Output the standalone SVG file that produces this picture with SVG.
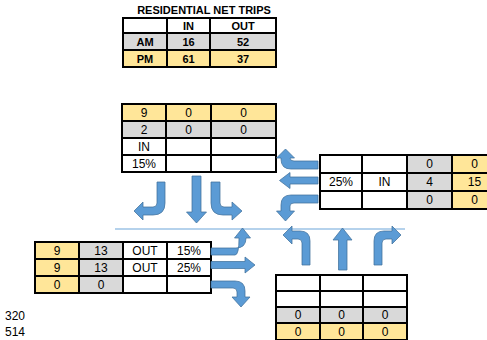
<svg xmlns="http://www.w3.org/2000/svg" width="487" height="340" viewBox="0 0 487 340">
  <style>
    text { font-family: "Liberation Sans", Arial, sans-serif; font-size: 12px; fill: #000; text-anchor: middle; }
    .b { font-weight: bold; font-size: 11px; }
    .title { font-weight: bold; font-size: 11px; }
    .plain { text-anchor: start; }
    .w { fill: #ffffff; }
    .g { fill: #d9d9d9; }
    .y { fill: #ffe699; }
    .grid { fill: none; stroke: #000; stroke-width: 2; }
    .arrow { fill: #5b9bd5; stroke: #41719c; stroke-width: 0.75; stroke-linejoin: round; }
    .divider { stroke: #9dc3e6; stroke-width: 1.5; }
  </style>

  <rect width="487" height="340" fill="#ffffff"/>

  <!-- summary table -->
  <g id="net-trips">
    <text class="title" x="204" y="14">RESIDENTIAL NET TRIPS</text>
    <rect class="w" x="123" y="18" width="153" height="15"/>
    <rect class="g" x="123" y="33" width="153" height="17"/>
    <rect class="y" x="123" y="50" width="153" height="17"/>
    <path class="grid" d="M123 18H276V67H123Z M123 33H276 M123 50H276 M167 18V67 M210 18V67"/>
    <text class="b" x="188.5" y="29.5">IN</text>
    <text class="b" x="243" y="29.5">OUT</text>
    <text class="b" x="145" y="45.5">AM</text>
    <text class="b" x="188.5" y="45.5">16</text>
    <text class="b" x="243" y="45.5">52</text>
    <text class="b" x="145" y="62.5">PM</text>
    <text class="b" x="188.5" y="62.5">61</text>
    <text class="b" x="243" y="62.5">37</text>
  </g>

  <!-- centre line -->
  <line class="divider" x1="115" y1="229" x2="405" y2="229"/>

  <!-- north approach -->
  <g id="north">
    <rect class="y" x="122" y="104" width="154" height="17"/>
    <rect class="g" x="122" y="121" width="154" height="17"/>
    <rect class="w" x="122" y="138" width="154" height="34"/>
    <path class="grid" d="M122 104H276V172H122Z M122 121H276 M122 138H276 M122 155H276 M166 104V172 M211 104V172"/>
    <text x="144" y="116.8">9</text>
    <text x="188.5" y="116.8">0</text>
    <text x="243.5" y="116.8">0</text>
    <text x="144" y="133.8">2</text>
    <text x="188.5" y="133.8">0</text>
    <text x="243.5" y="133.8">0</text>
    <text x="144" y="150.8">IN</text>
    <text x="144" y="167.8">15%</text>
  </g>

  <!-- east approach -->
  <g id="east">
    <rect class="w" x="320" y="155" width="87" height="54"/>
    <rect class="g" x="407" y="155" width="45" height="54"/>
    <rect class="y" x="452" y="155" width="45" height="54"/>
    <path class="grid" d="M320 155H497V209H320Z M320 173H497 M320 191H497 M362 155V209 M407 155V209 M452 155V209"/>
    <text x="429.5" y="168.3">0</text>
    <text x="474.5" y="168.3">0</text>
    <text x="341" y="186.3">25%</text>
    <text x="384.5" y="186.3">IN</text>
    <text x="429.5" y="186.3">4</text>
    <text x="474.5" y="186.3">15</text>
    <text x="429.5" y="204.3">0</text>
    <text x="474.5" y="204.3">0</text>
  </g>

  <!-- west approach -->
  <g id="west">
    <rect class="y" x="35" y="242" width="44" height="51"/>
    <rect class="g" x="79" y="242" width="44" height="51"/>
    <rect class="w" x="123" y="242" width="88" height="51"/>
    <path class="grid" d="M35 242H211V293H35Z M35 259H211 M35 276H211 M79 242V293 M123 242V293 M167 242V293"/>
    <text x="57" y="254.8">9</text>
    <text x="101" y="254.8">13</text>
    <text x="145" y="254.8">OUT</text>
    <text x="189" y="254.8">15%</text>
    <text x="57" y="271.8">9</text>
    <text x="101" y="271.8">13</text>
    <text x="145" y="271.8">OUT</text>
    <text x="189" y="271.8">25%</text>
    <text x="57" y="288.8">0</text>
    <text x="101" y="288.8">0</text>
  </g>

  <!-- south approach -->
  <g id="south">
    <rect class="w" x="276" y="275" width="131" height="32"/>
    <rect class="g" x="276" y="307" width="131" height="16"/>
    <rect class="y" x="276" y="323" width="131" height="17"/>
    <path class="grid" d="M276 340V275H407V340 M276 291H407 M276 307H407 M276 323H407 M276 340H407 M320 275V340 M363 275V340"/>
    <text x="298" y="319.3">0</text>
    <text x="341.5" y="319.3">0</text>
    <text x="385" y="319.3">0</text>
    <text x="298" y="335.8">0</text>
    <text x="341.5" y="335.8">0</text>
    <text x="385" y="335.8">0</text>
  </g>

  <!-- turning movement arrows -->
  <g id="connectors">
    <!-- north approach: right-hand turn, through, left-hand turn -->
    <path class="arrow" d="M157 182H165V203Q165 215 153 215H143V220L134 211L143 202V207H153Q157 207 157 203Z"/>
    <path class="arrow" d="M192 176H201V212H206.5L196.5 223L186.5 212H192Z"/>
    <path class="arrow" d="M211 182H220V203Q220 207 224 207H232V202L242 211L232 220V215H223Q211 215 211 203Z"/>

    <!-- east approach -->
    <path class="arrow" d="M318 161H294Q290 161 290 158H294.5L285.5 149L276.5 158H281V159Q281 169 291 169H318Z"/>
    <path class="arrow" d="M318 177H290V172.5L279.5 180.5L290 188.5V184H318Z"/>
    <path class="arrow" d="M318 195H291Q281 195 281 205V211H276.5L285.5 221L294.5 211H290V206Q290 203 294 203H318Z"/>

    <!-- south approach -->
    <path class="arrow" d="M302 265V243Q302 239 298 239H292V244L283 235L292 226V231H300Q310 231 310 241V265Z"/>
    <path class="arrow" d="M338.5 270V240H333L342.5 228L352 240H347V270Z"/>
    <path class="arrow" d="M382 265V243Q382 239 386 239H392V244L401 235L392 226V231H384Q374 231 374 241V265Z"/>

    <!-- west approach -->
    <path class="arrow" d="M211 248H236Q246 248 246 238H250.5L242.5 228L234.5 238H239Q239 255 235 255H211Z"/>
    <path class="arrow" d="M211 261.5H245V257L255 265L245 273V268.5H211Z"/>
    <path class="arrow" d="M211 281H235Q245 281 245 291V297H250L241 307L232 297H237V292Q237 288 233 288H211Z"/>
  </g>

  <!-- site totals -->
  <g id="totals">
    <text class="plain" x="5" y="320">320</text>
    <text class="plain" x="5" y="336">514</text>
  </g>
</svg>
